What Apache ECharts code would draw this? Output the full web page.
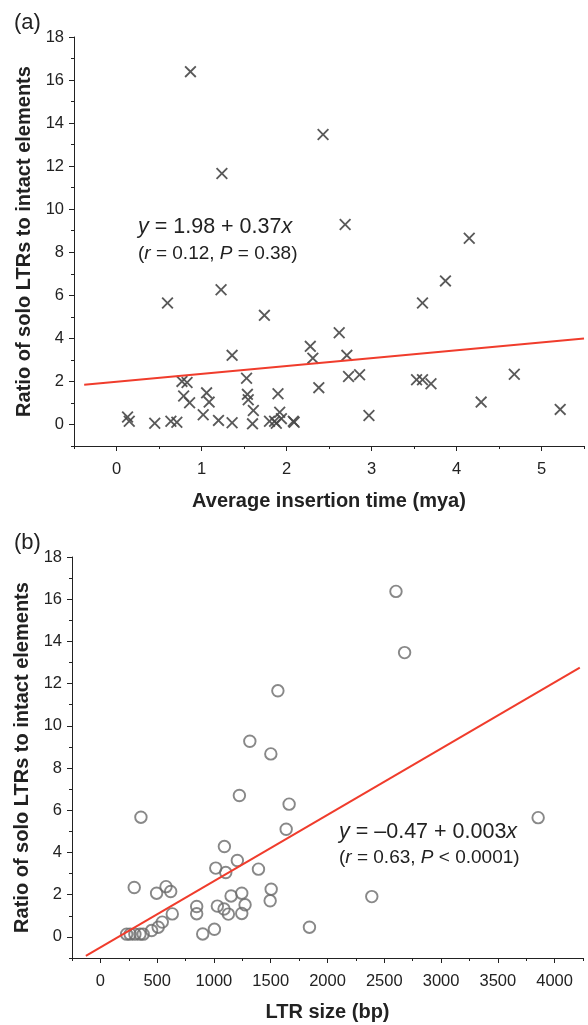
<!DOCTYPE html>
<html>
<head>
<meta charset="utf-8">
<script src="https://cdn.jsdelivr.net/npm/echarts@6/dist/echarts.min.js"></script>
<style>
  html, body { margin: 0; padding: 0; background: #fff; }
  #chart { width: 588px; height: 1025px; }
</style>
</head>
<body>
<div id="chart"></div>
<script>
// (a) average insertion time vs ratio
var timeA = [0.87, 1.24, 2.43, 2.69, 4.15, 0.13, 0.15, 0.45, 0.60, 0.64, 0.71, 0.77, 0.83, 0.79, 0.86,
    1.02, 1.06, 1.09, 1.20, 1.23, 1.36, 1.36, 1.53, 1.54, 1.55, 1.61, 1.60, 1.74, 1.80, 1.86,
    1.90, 1.92, 1.88, 1.94, 2.08, 2.09, 2.28, 2.31, 2.38, 2.62, 2.71, 2.73, 2.86, 2.97, 3.53,
    3.60, 3.70, 3.60, 3.87, 4.29, 4.68, 5.22]
var ratioA = [16.39, 11.66, 13.47, 9.29, 8.65, 0.35, 0.15, 0.06, 5.64, 0.15, 0.10, 2.00, 1.95, 1.32, 1.01,
    0.45, 1.47, 1.04, 0.19, 6.26, 3.21, 0.08, 2.15, 1.40, 1.15, 0.65, 0.03, 5.07, 0.15, 0.15,
    1.43, 0.57, 0.06, 0.27, 0.15, 0.10, 3.63, 3.08, 1.71, 4.26, 3.21, 2.23, 2.31, 0.42, 2.08,
    2.08, 1.89, 5.64, 6.67, 1.04, 2.33, 0.70]
var fitAX = [-0.38, 5.5]
var fitAY = [1.84, 3.99]

// (b) LTR size vs ratio
var sizeB = [2603, 2679, 1563, 1316, 1501, 1224, 1662, 357, 3855, 1636, 1092, 1206, 1016, 1104, 1392,
    298, 495, 578, 619, 633, 848, 848, 1030, 1089, 1127, 1151, 1245, 1245, 1274, 1504,
    1495, 2390, 1841, 1004, 901, 231, 262, 304, 348, 377, 451, 509, 545]
var ratioB = [16.37, 13.47, 11.66, 9.27, 8.67, 6.70, 6.29, 5.67, 5.65, 5.10, 4.28, 3.62, 3.26, 3.05, 3.21,
    2.34, 2.07, 2.38, 2.15, 1.09, 1.44, 1.10, 1.46, 1.32, 1.08, 1.94, 2.07, 1.11, 1.52, 2.26,
    1.71, 1.91, 0.46, 0.36, 0.14, 0.13, 0.13, 0.13, 0.13, 0.13, 0.30, 0.46, 0.70]
var fitBX = [-128, 4222]
var fitBY = [-0.9, 12.76]

// tick values
var ratioTicks = [0, 2, 4, 6, 8, 10, 12, 14, 16, 18]
var ratioMinor = [-1, 1, 3, 5, 7, 9, 11, 13, 15, 17]
var timeTicks = [0, 1, 2, 3, 4, 5]
var timeMinor = [-0.5, 0.5, 1.5, 2.5, 3.5, 4.5, 5.5]
var sizeTicks = [0, 500, 1000, 1500, 2000, 2500, 3000, 3500, 4000]
var sizeMinor = [-250, 250, 750, 1250, 1750, 2250, 2750, 3250, 3750, 4250]

var FONT = '"Liberation Sans", Arial, sans-serif'
var INK = '#222'

function pairs(xs, ys) {
    return xs.map(function (x, i) { return [x, ys[i]] })
}

// main axis with labels + an overlay axis that only draws the short minor ticks
function axisPair(dim, grid, min, max, ticks, minor, extra) {
    var main = {
        type: 'value', gridIndex: grid, min: min, max: max,
        axisLine: { show: true, onZero: false, lineStyle: { color: INK, width: 1 } },
        axisTick: { show: true, customValues: ticks, length: 5, lineStyle: { color: INK } },
        axisLabel: {
            customValues: ticks, color: INK, fontSize: 16.5, fontFamily: FONT,
            formatter: function (v) { return String(v) }
        },
        splitLine: { show: false }
    }
    for (var k in extra) main[k] = extra[k]
    var sub = {
        type: 'value', gridIndex: grid, min: min, max: max,
        axisLine: { show: false, onZero: false },
        axisTick: { show: true, customValues: minor, length: 3, lineStyle: { color: INK } },
        axisLabel: { show: false },
        splitLine: { show: false }
    }
    if (dim === 'y') { main.position = 'left'; sub.position = 'left' }
    else { main.position = 'bottom'; sub.position = 'bottom' }
    return [main, sub]
}

var nameStyle = { fontSize: 20, fontWeight: 'bold', fontFamily: FONT, color: INK }
var yName = 'Ratio of solo LTRs to intact elements'

var xA = axisPair('x', 0, -0.5, 5.5, timeTicks, timeMinor, {
    name: 'Average insertion time (mya)', nameLocation: 'middle', nameGap: 45, nameTextStyle: nameStyle
})
xA[0].axisLabel.margin = 15
var yA = axisPair('y', 0, -1, 18, ratioTicks, ratioMinor, {
    name: yName, nameLocation: 'middle', nameRotate: 90, nameGap: 36, nameTextStyle: nameStyle
})
yA[0].axisLabel.margin = 10
var xB = axisPair('x', 1, -250, 4250, sizeTicks, sizeMinor, {
    name: 'LTR size (bp)', nameLocation: 'middle', nameGap: 44, nameTextStyle: nameStyle
})
xB[0].axisLabel.margin = 15
var yB = axisPair('y', 1, -1, 18, ratioTicks, ratioMinor, {
    name: yName, nameLocation: 'middle', nameRotate: 90, nameGap: 34, nameTextStyle: nameStyle
})
yB[0].axisLabel.margin = 10

var crossPath = 'path://M0,1.3L1.3,0L6,4.7L10.7,0L12,1.3L7.3,6L12,10.7L10.7,12L6,7.3L1.3,12L0,10.7L4.7,6Z'

function eqText(x, y, parts, size) {
    return {
        type: 'text', left: x, top: y - size / 2 - 1, z: 10,
        style: {
            text: parts, fill: INK, font: size + 'px ' + FONT,
            rich: {
                i: { fontStyle: 'italic', fontSize: size, fontFamily: FONT, fill: INK },
                n: { fontSize: size, fontFamily: FONT, fill: INK }
            }
        }
    }
}

var myChart = echarts.init(document.getElementById('chart'), null, { renderer: 'canvas' })

var option = {
    animation: false,
    backgroundColor: '#fff',
    grid: [
        { left: 74, top: 37, width: 510, height: 409, containLabel: false },
        { left: 72, top: 557, width: 511, height: 401, containLabel: false }
    ],
    xAxis: [xA[0], xA[1], xB[0], xB[1]],
    yAxis: [yA[0], yA[1], yB[0], yB[1]],
    series: [
        {
            type: 'scatter', xAxisIndex: 0, yAxisIndex: 0,
            data: pairs(timeA, ratioA),
            symbol: crossPath, symbolSize: 12,
            itemStyle: { color: '#474747', opacity: 0.9 }
        },
        {
            type: 'line', xAxisIndex: 0, yAxisIndex: 0,
            data: pairs(fitAX, fitAY), symbol: 'none', z: 3,
            lineStyle: { color: '#f03c2c', width: 2 }
        },
        {
            type: 'scatter', xAxisIndex: 2, yAxisIndex: 2,
            data: pairs(sizeB, ratioB),
            symbol: 'circle', symbolSize: 11.5,
            itemStyle: { color: 'rgba(255,255,255,0)', borderColor: '#6a6a6a', borderWidth: 1.9 }
        },
        {
            type: 'line', xAxisIndex: 2, yAxisIndex: 2,
            data: pairs(fitBX, fitBY), symbol: 'none', z: 3,
            lineStyle: { color: '#f03c2c', width: 2 }
        }
    ],
    graphic: [
        { type: 'text', left: 14, top: 12, style: { text: '(a)', fill: INK, font: '22px ' + FONT } },
        { type: 'text', left: 14, top: 532, style: { text: '(b)', fill: INK, font: '22px ' + FONT } },
        eqText(138, 228, '{i|y}{n| = 1.98 + 0.37}{i|x}', 21.5),
        eqText(138, 255, '{n|(}{i|r}{n| = 0.12, }{i|P}{n| = 0.38)}', 19),
        eqText(339, 833, '{i|y}{n| = \u20130.47 + 0.003}{i|x}', 21.5),
        eqText(339, 859, '{n|(}{i|r}{n| = 0.63, }{i|P}{n| < 0.0001)}', 19)
    ]
}

myChart.setOption(option)
window.addEventListener('resize', function () {
    myChart.resize()
})
</script>
</body>
</html>
